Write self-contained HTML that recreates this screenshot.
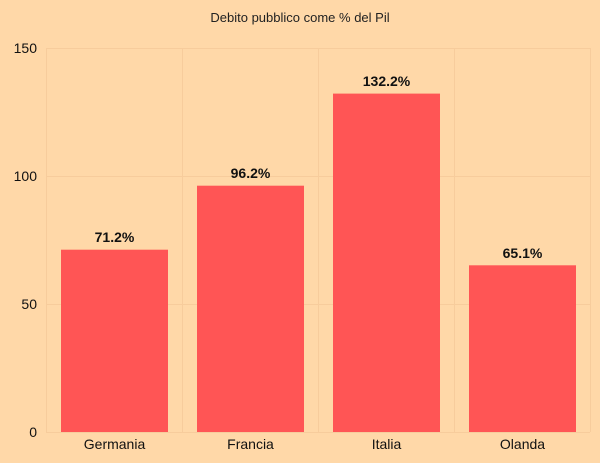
<!DOCTYPE html>
<html><head><style>
body{margin:0;background:#FFD8A8;}
svg{display:block;font-family:"Liberation Sans",sans-serif;}
</style></head><body>
<svg width="600" height="463" viewBox="0 0 600 463">
<rect width="600" height="463" fill="#FFD8A8"/>
<text x="300" y="22" text-anchor="middle" font-size="13" fill="#222">Debito pubblico come % del Pil</text>
<g stroke="#F7CC9C" stroke-width="1">
<line x1="46" y1="48.5" x2="590" y2="48.5"/>
<line x1="46" y1="176.5" x2="590" y2="176.5"/>
<line x1="46" y1="304.5" x2="590" y2="304.5"/>
<line x1="46" y1="432.5" x2="590" y2="432.5"/>
<line x1="46.5" y1="48" x2="46.5" y2="432"/>
<line x1="182.5" y1="48" x2="182.5" y2="432"/>
<line x1="318.5" y1="48" x2="318.5" y2="432"/>
<line x1="454.5" y1="48" x2="454.5" y2="432"/>
<line x1="590.5" y1="48" x2="590.5" y2="432"/>
</g>
<g font-size="14" fill="#111" text-anchor="end">
<text x="37" y="53">150</text>
<text x="37" y="181">100</text>
<text x="37" y="309">50</text>
<text x="37" y="437">0</text>
</g>
<g fill="#FF5555">
<rect x="61" y="249.7" width="107" height="182.3"/>
<rect x="197" y="185.7" width="107" height="246.3"/>
<rect x="333" y="93.6" width="107" height="338.4"/>
<rect x="469" y="265.3" width="107" height="166.7"/>
</g>
<g font-size="14" font-weight="bold" fill="#111" text-anchor="middle">
<text x="114.5" y="242">71.2%</text>
<text x="250.5" y="178">96.2%</text>
<text x="386.5" y="86">132.2%</text>
<text x="522.5" y="258">65.1%</text>
</g>
<g font-size="14" fill="#111" text-anchor="middle">
<text x="114.5" y="449">Germania</text>
<text x="250.5" y="449">Francia</text>
<text x="386.5" y="449">Italia</text>
<text x="522.5" y="449">Olanda</text>
</g>
</svg>
</body></html>
